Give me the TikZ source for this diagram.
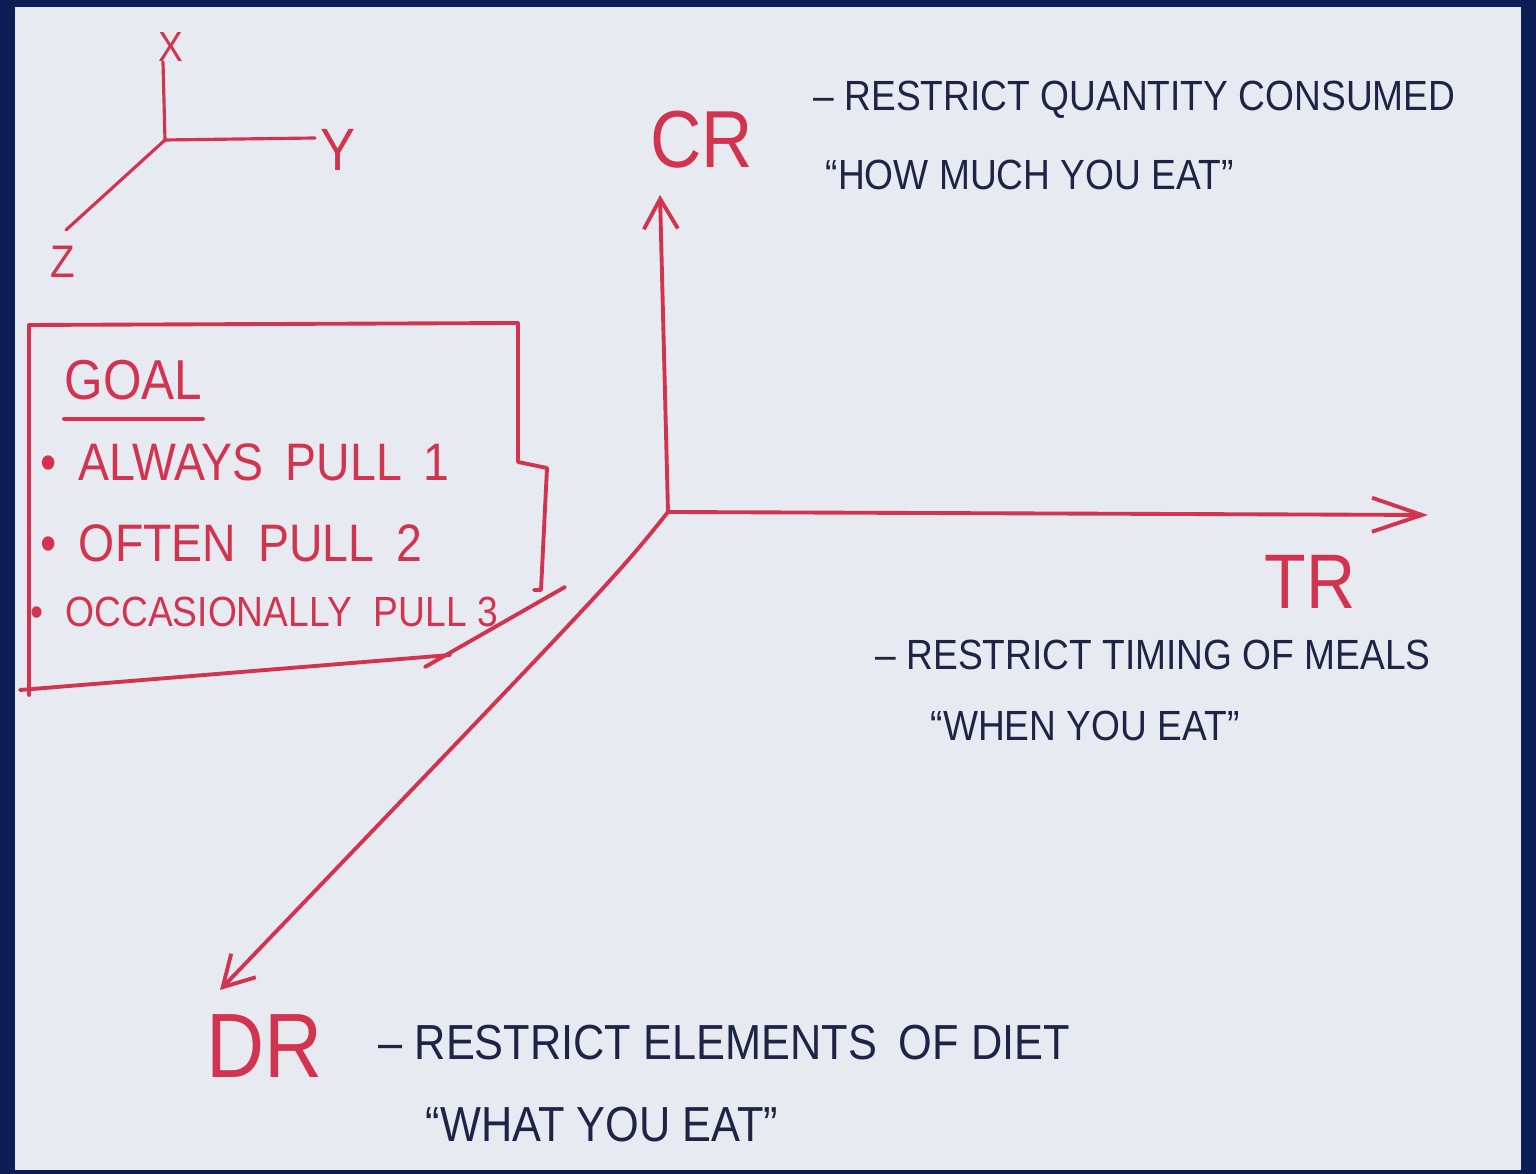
\documentclass[tikz,border=0pt]{standalone}
\usepackage{fontspec}
\setmainfont{Liberation Sans}
\newfontfamily\handfont[FakeStretch=0.88, Ligatures=TeX]{Liberation Sans}
\usepackage{tikz}
\usetikzlibrary{arrows.meta, positioning}
\definecolor{framenavy}{HTML}{0B1F55}
\definecolor{paperwhite}{HTML}{E7EAF0}
\definecolor{markerred}{HTML}{D2344F}
\definecolor{inknavy}{HTML}{1F2447}
\newcommand{\gap}{\hspace{2.2mm}}

\begin{document}
\begin{tikzpicture}[
    x=0.01cm, y=-0.01cm,
    redline/.style={
        draw=markerred, line width=1.1pt,
        line cap=round, line join=round,
    },
    axisarrow/.style={
        redline, -{Straight Barb[length=#1, width=3.4mm]},
    },
    axislabel/.style={
        font=\handfont\fontsize{#1}{#1}\selectfont,
        text=markerred, inner sep=0pt,
    },
    goalitem/.style={
        font=\handfont\fontsize{#1}{#1}\selectfont,
        text=markerred, inner sep=0pt, anchor=west,
    },
    note/.style={
        font=\handfont\fontsize{#1}{#1}\selectfont,
        text=inknavy, inner sep=0pt, anchor=west,
    },
]

% sheet of paper in its frame
\fill[framenavy] (0,0) rectangle (1536,1174);
\fill[paperwhite] (15,7) rectangle (1521,1170);
\useasboundingbox (0,0) rectangle (1536,1174);

% small key axes
\coordinate (so) at (165,140);
\coordinate (sx) at (163,62);
\coordinate (sy) at (315,138);
\coordinate (sz) at (66,230);
\draw[redline, line width=0.9pt] (so) -- (sx);
\draw[redline, line width=0.9pt] (so) -- (sy);
\draw[redline, line width=0.9pt] (so) -- (sz);
\node[axislabel=12] (xlab) at (171,47) {X};
\node[axislabel=17] (ylab) at (338,150) {Y};
\node[axislabel=13] (zlab) at (63,262) {Z};

% goal box
\draw[redline] (29,325) -- (518,323) -- (518,462) -- (547,468) -- (541,590) -- (534,590);
\draw[redline] (29,325) -- (29,695);
\draw[redline] (20,690) -- (450,655);
\draw[redline] (425,667) -- (565,587);

\node[goalitem=16] (goal) at (64,380) {GOAL};
\draw[redline] ([yshift=-0.18cm]goal.south west) -- ([yshift=-0.18cm]goal.south east);
\node[goalitem=15] (always) at (40,462) {\textbullet\gap ALWAYS\gap PULL\gap 1};
\node[goalitem=15] (often) at (40,543) {\textbullet\gap OFTEN\gap PULL\gap 2};
\node[goalitem=12] (occas) at (30,612) {\textbullet\gap OCCASIONALLY\gap PULL 3};

% main axes
\coordinate (o) at (668,512);
\coordinate (crend) at (660,195);
\coordinate (trend) at (1428,515);
\coordinate (drend) at (220,990);
\draw[axisarrow=3mm] (o) -- (crend);
\draw[axisarrow=5mm] (o) -- (trend);
\draw[axisarrow=3mm] (o) .. controls (615,578) .. (drend);

\node[axislabel=23] (cr) at (702,140) {CR};
\node[axislabel=22] (tr) at (1310,582) {TR};
\node[axislabel=26] (dr) at (265,1046) {DR};

% notes on each axis
\node[note=12] (crnote1) at (813,100) {– RESTRICT QUANTITY CONSUMED};
\node[note=12, below=0.4cm of crnote1.south west, anchor=north west, xshift=0.12cm] (crnote2)
    {“HOW MUCH YOU EAT”};

\node[note=12] (trnote1) at (875,655) {– RESTRICT TIMING OF MEALS};
\node[note=12, below=0.4cm of trnote1.south west, anchor=north west, xshift=0.55cm] (trnote2)
    {“WHEN YOU EAT”};

\node[note=14] (drnote1) at (378,1043) {– RESTRICT ELEMENTS\gap OF DIET};
\node[note=14, below=0.45cm of drnote1.south west, anchor=north west, xshift=0.47cm] (drnote2)
    {“WHAT YOU EAT”};

\end{tikzpicture}
\end{document}
